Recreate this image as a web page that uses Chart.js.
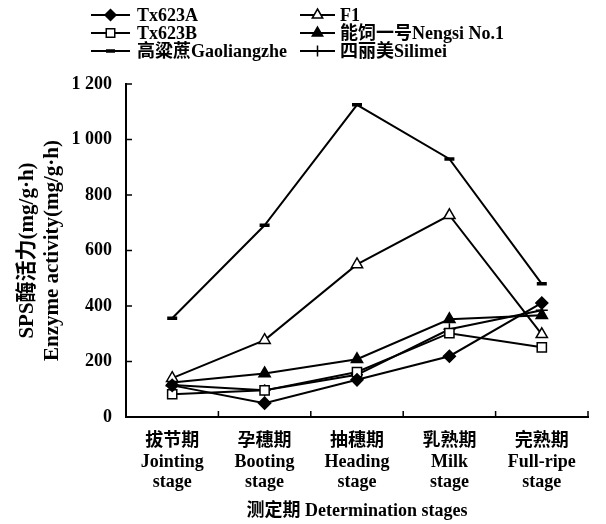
<!DOCTYPE html>
<html>
<head>
<meta charset="utf-8">
<script src="https://cdn.jsdelivr.net/npm/chart.js@4"></script>
<style>
  html, body { margin: 0; padding: 0; background: #fff; }
  #wrap { width: 606px; height: 524px; }
</style>
</head>
<body>
<div id="wrap"><canvas id="spsChart"></canvas></div>
<script>
// --- data ---
const stageCn = ['拔节期', '孕穗期', '抽穗期', '乳熟期', '完熟期'];
const stageEn = ['Jointing', 'Booting', 'Heading', 'Milk', 'Full-ripe'];
const tx623a = [114, 50, 134, 219, 411];
const f1 = [140, 277, 550, 727, 298];
const tx623b = [82, 96, 162, 302, 251];
const nengsi = [124, 157, 208, 352, 367];
const gaoliangzhe = [356, 691, 1125, 930, 480];
const silimei = [115, 96, 152, 316, 385];
const yTicks = [0, 200, 400, 600, 800, 1000, 1200];

const FONT = "'Liberation Serif', 'Noto Sans CJK SC', serif";

const series = [
    { label: 'Tx623A', data: tx623a, style: 'rectRot', radius: 6, fill: '#000', bw: 1.5 },
    { label: 'F1', data: f1, style: 'triangle', radius: 6.5, fill: '#fff', bw: 1.5 },
    { label: 'Tx623B', data: tx623b, style: 'rect', radius: 6.5, fill: '#fff', bw: 1.5 },
    { label: '能饲一号Nengsi No.1', data: nengsi, style: 'triangle', radius: 6.5, fill: '#000', bw: 1.5 },
    { label: '高粱蔗Gaoliangzhe', data: gaoliangzhe, style: 'line', radius: 5, fill: '#000', bw: 3.5 },
    { label: '四丽美Silimei', data: silimei, style: 'cross', radius: 6, fill: '#000', bw: 1.5 }
];

// legend drawn by hand so it sits in two aligned columns like the original
const legendPlugin = {
    id: 'twoColLegend',
    afterDraw(chart) {
        const ctx = chart.ctx;
        const cols = [{ x0: 91, x1: 130, tx: 137 }, { x0: 300, x1: 335, tx: 340 }];
        const rows = [15, 33, 51];
        ctx.save();
        series.forEach((s, i) => {
            const c = cols[i % 2];
            const y = rows[Math.floor(i / 2)];
            ctx.strokeStyle = '#000';
            ctx.lineWidth = 2;
            ctx.beginPath();
            ctx.moveTo(c.x0, y);
            ctx.lineTo(c.x1, y);
            ctx.stroke();
            ctx.fillStyle = s.fill;
            ctx.lineWidth = s.bw;
            Chart.helpers.drawPoint(ctx, { pointStyle: s.style, radius: s.radius - 0.5, borderWidth: s.bw, rotation: 0 },
                (c.x0 + c.x1) / 2, y);
            ctx.fillStyle = '#000';
            ctx.font = 'bold 18px ' + FONT;
            ctx.textBaseline = 'middle';
            ctx.textAlign = 'left';
            ctx.fillText(s.label, c.tx, y + 1);
        });
        ctx.restore();
    }
};

// small inward tick marks on both axes
const innerTicks = {
    id: 'innerTicks',
    afterDraw(chart) {
        const ctx = chart.ctx;
        const x = chart.scales.x;
        const y = chart.scales.y;
        const area = chart.chartArea;
        ctx.save();
        ctx.strokeStyle = '#000';
        ctx.lineWidth = 1.5;
        ctx.beginPath();
        for (let i = 1; i <= stageCn.length; i++) {
            const px = x.getPixelForValue(i - 0.5);
            ctx.moveTo(px, area.bottom);
            ctx.lineTo(px, area.bottom - 6);
        }
        yTicks.forEach(v => {
            const py = y.getPixelForValue(v);
            ctx.moveTo(area.left, py);
            ctx.lineTo(area.left + 6, py);
        });
        ctx.stroke();
        ctx.restore();
    }
};

const ctx = document.getElementById('spsChart').getContext('2d');
const spsChart = new Chart(ctx, {
    type: 'line',
    data: {
        labels: stageCn.map((cn, i) => [cn, stageEn[i], 'stage']),
        datasets: series.map(s => ({
            label: s.label,
            data: s.data,
            borderColor: '#000',
            borderWidth: 2,
            pointStyle: s.style,
            pointRadius: s.radius,
            pointBackgroundColor: s.fill,
            pointBorderColor: '#000',
            pointBorderWidth: s.bw,
            tension: 0
        }))
    },
    options: {
        responsive: true,
        maintainAspectRatio: false,
        animation: false,
        layout: { padding: { top: 84, right: 18, left: 0, bottom: 0 } },
        plugins: {
            legend: { display: false },
            tooltip: { enabled: false }
        },
        scales: {
            x: {
                offset: true,
                grid: { display: false },
                border: { display: true, color: '#000', width: 2 },
                ticks: {
                    color: '#000',
                    font: { family: FONT, size: 18, weight: 'bold', lineHeight: 1.15 },
                    padding: 6,
                    maxRotation: 0
                },
                title: {
                    display: true,
                    text: '测定期 Determination stages',
                    color: '#000',
                    font: { family: FONT, size: 18, weight: 'bold' },
                    padding: { top: 0, bottom: 2 }
                },
                afterFit: s => { s.height = 524 - 417; }
            },
            y: {
                min: 0,
                max: 1200,
                afterBuildTicks: s => { s.ticks = yTicks.map(v => ({ value: v })); },
                grid: { display: false },
                border: { display: true, color: '#000', width: 2 },
                ticks: {
                    color: '#000',
                    font: { family: FONT, size: 18, weight: 'bold' },
                    padding: 6,
                    callback: v => String(v).replace(/\B(?=(\d{3})+$)/g, ' ')
                },
                title: {
                    display: true,
                    text: ['SPS酶活力(mg/g·h)', 'Enzyme activity(mg/g·h)'],
                    color: '#000',
                    font: { family: FONT, size: 21, weight: 'bold', lineHeight: 1.15 },
                    padding: { top: 16, bottom: 4 }
                },
                afterFit: s => { s.width = 126; }
            }
        }
    },
    plugins: [legendPlugin, innerTicks]
});
</script>
</body>
</html>
